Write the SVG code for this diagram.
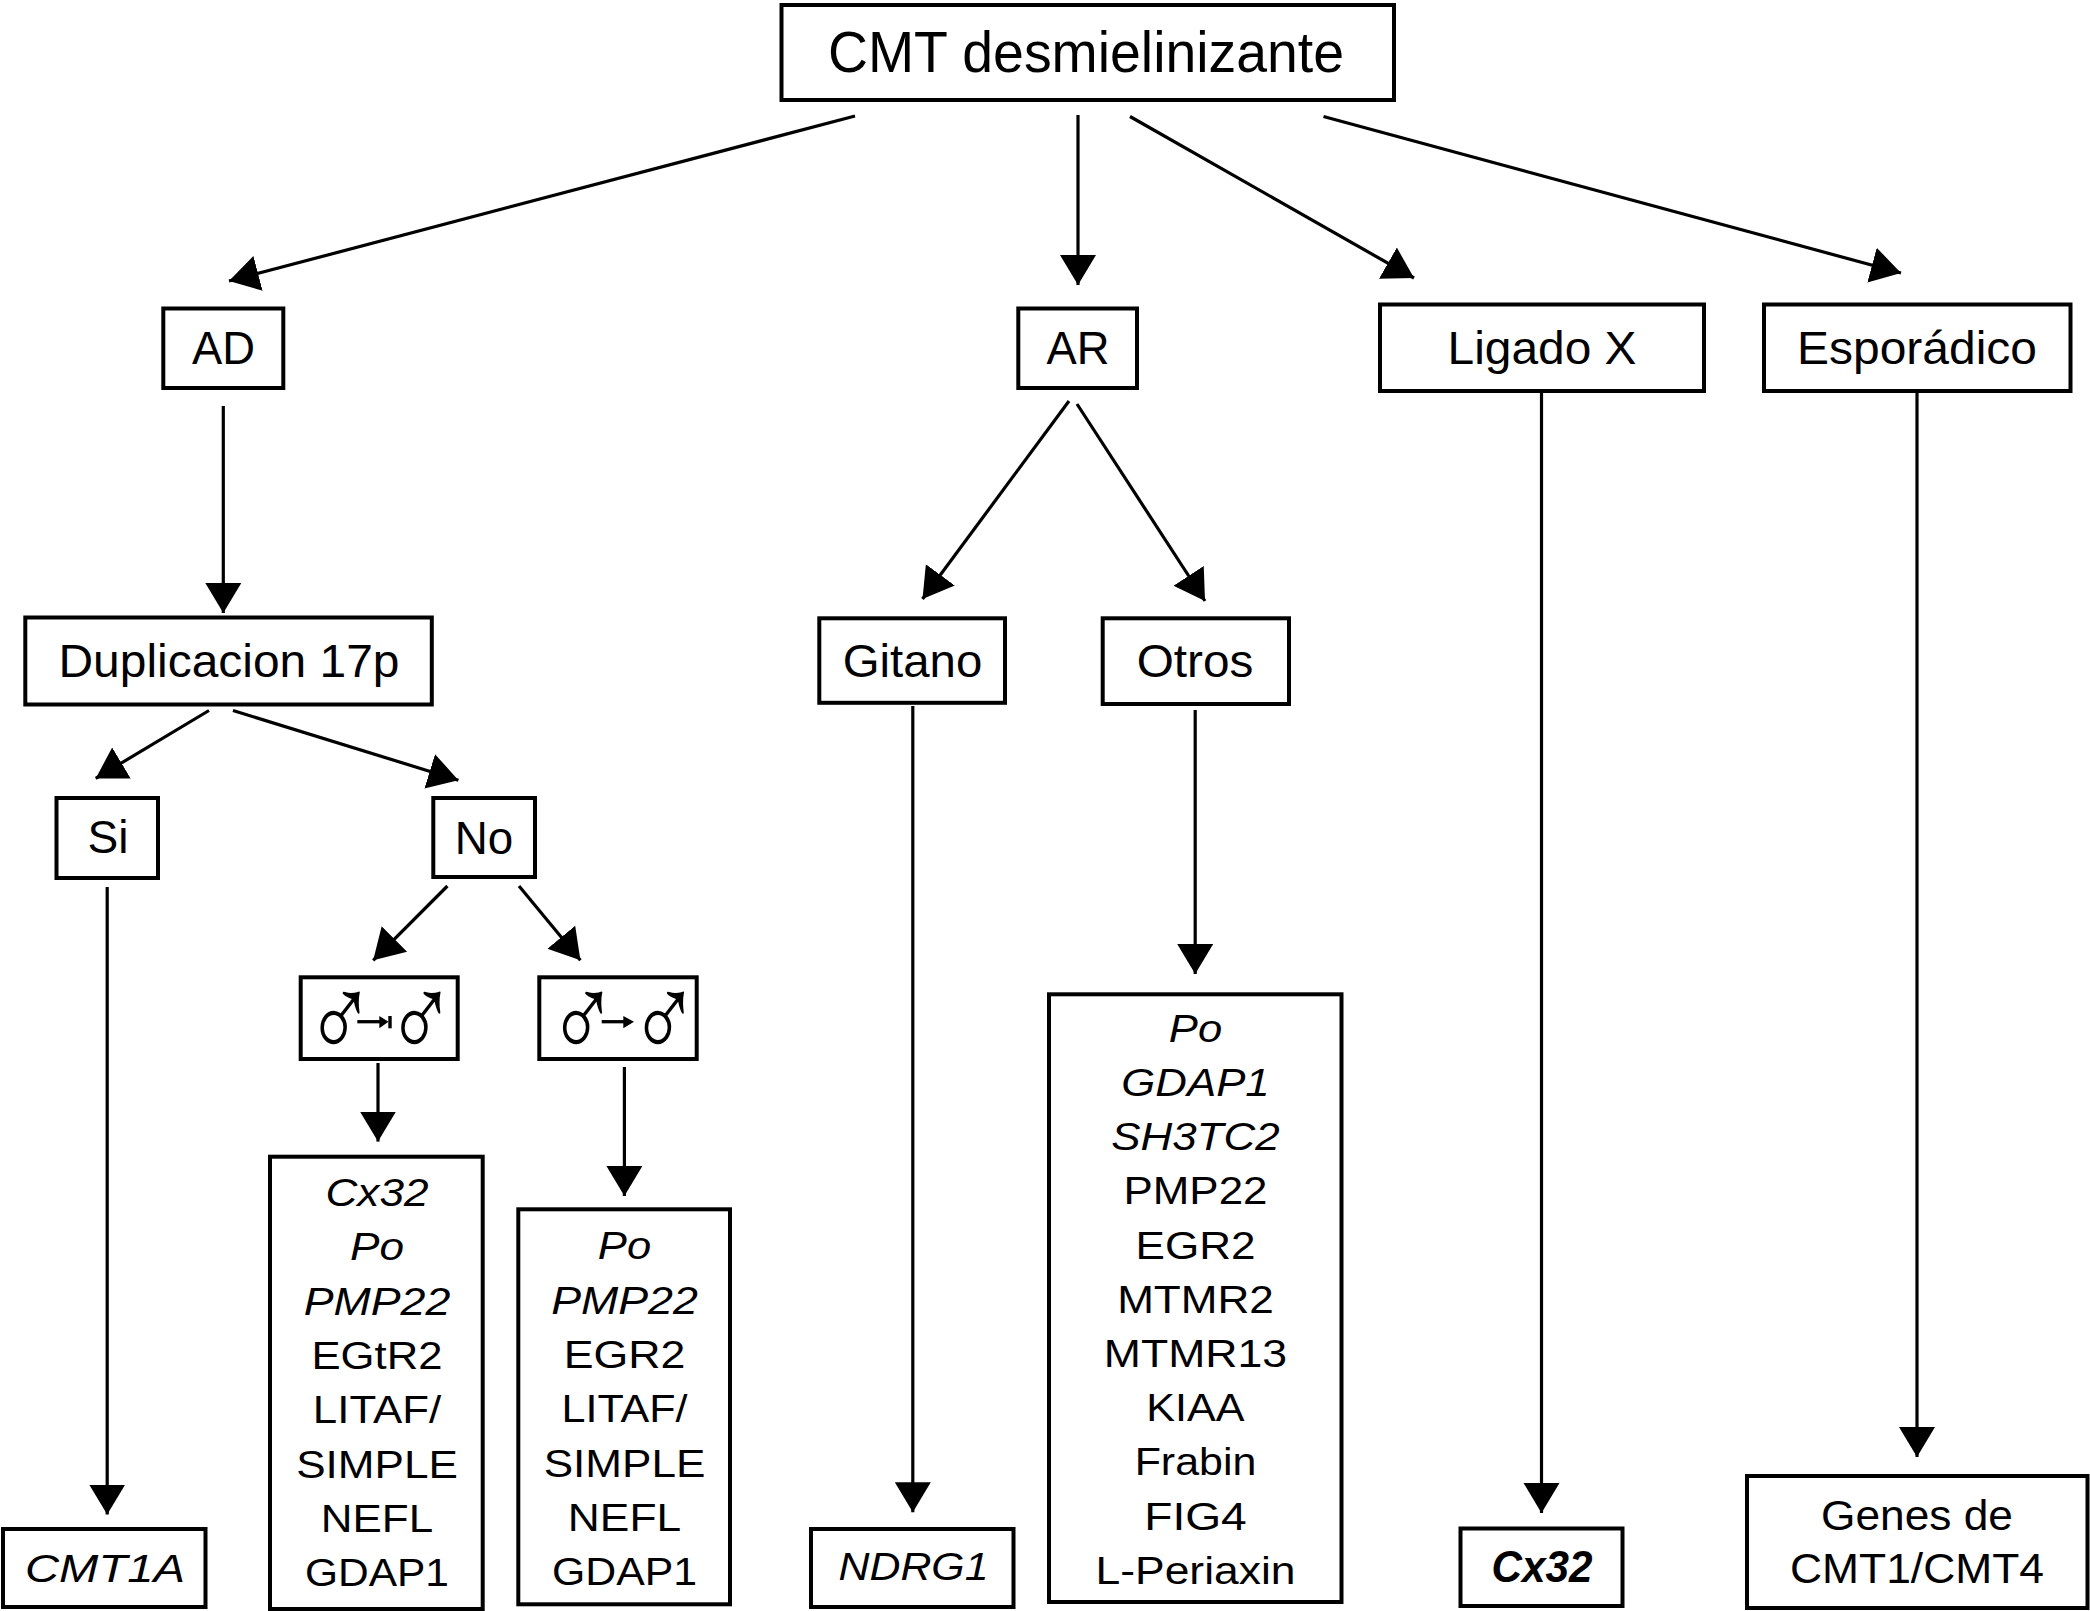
<svg xmlns="http://www.w3.org/2000/svg" width="2090" height="1611" viewBox="0 0 2090 1611">
<defs>
<marker id="ah" markerUnits="userSpaceOnUse" markerWidth="32" markerHeight="38" viewBox="0 -19 32 38" refX="30" refY="0" orient="auto">
<path d="M0,-18 L30,0 L0,18 Z" fill="#000"/>
</marker>
<style>
rect.b{fill:#fff;stroke:#000;stroke-width:4}
.c line{stroke:#000;stroke-width:3.2;marker-end:url(#ah)}
text{font-family:"Liberation Sans",Arial,sans-serif;fill:#000;text-anchor:middle}
.h{font-size:47px}
.l{font-size:38px}
.i{font-style:italic}
.m{font-size:120px}
</style>
</defs>
<rect width="2090" height="1611" fill="#fff"/>

<g id="connectors" class="c">
<line x1="855" y1="116" x2="229" y2="281"/>
<line x1="1078" y1="115" x2="1078" y2="285"/>
<line x1="1130" y1="116.5" x2="1414" y2="278"/>
<line x1="1323.5" y1="116.5" x2="1901" y2="273"/>
<line x1="223.3" y1="406" x2="223.3" y2="613"/>
<line x1="1069" y1="401" x2="922.5" y2="599"/>
<line x1="1077" y1="404" x2="1205" y2="601"/>
<line x1="1541.5" y1="391" x2="1541.5" y2="1513"/>
<line x1="1917" y1="391" x2="1917" y2="1457"/>
<line x1="209" y1="710.5" x2="95.7" y2="778.4"/>
<line x1="233" y1="710.5" x2="458.4" y2="780.2"/>
<line x1="107.2" y1="887" x2="107.2" y2="1514.6"/>
<line x1="447.4" y1="886" x2="373.2" y2="960.3"/>
<line x1="519" y1="886" x2="580.4" y2="960.3"/>
<line x1="378" y1="1063" x2="378" y2="1141.6"/>
<line x1="624.4" y1="1067" x2="624.4" y2="1196"/>
<line x1="912.8" y1="706" x2="912.8" y2="1512.3"/>
<line x1="1195.2" y1="710" x2="1195.2" y2="974"/>
</g>

<g id="n-title"><rect class="b" x="781.5" y="5" width="612.5" height="95"/><text x="1086" y="72" font-size="58" textLength="516" lengthAdjust="spacingAndGlyphs">CMT desmielinizante</text></g>
<g id="n-ad"><rect class="b" x="163.3" y="308.5" width="120" height="79.5"/><text class="h" x="223.5" y="364" textLength="63" lengthAdjust="spacingAndGlyphs">AD</text></g>
<g id="n-ar"><rect class="b" x="1018.3" y="308.5" width="118.7" height="79.5"/><text class="h" x="1078" y="364" textLength="63" lengthAdjust="spacingAndGlyphs">AR</text></g>
<g id="n-ligado"><rect class="b" x="1380" y="304.5" width="324" height="86.5"/><text class="h" x="1542" y="364" textLength="189" lengthAdjust="spacingAndGlyphs">Ligado X</text></g>
<g id="n-esporadico"><rect class="b" x="1764" y="304.5" width="306.5" height="86.5"/><text class="h" x="1917" y="364" textLength="240" lengthAdjust="spacingAndGlyphs">Esporádico</text></g>
<g id="n-dup"><rect class="b" x="25.3" y="617.5" width="406.5" height="87"/><text class="h" x="229" y="677" textLength="341" lengthAdjust="spacingAndGlyphs">Duplicacion 17p</text></g>
<g id="n-gitano"><rect class="b" x="819.3" y="618.3" width="185.7" height="84.5"/><text class="h" x="912.5" y="677" textLength="139.5" lengthAdjust="spacingAndGlyphs">Gitano</text></g>
<g id="n-otros"><rect class="b" x="1102.7" y="618.3" width="186.3" height="85.7"/><text class="h" x="1195" y="677" textLength="116.7" lengthAdjust="spacingAndGlyphs">Otros</text></g>
<g id="n-si"><rect class="b" x="56.5" y="798" width="101.5" height="80"/><text class="h" x="108" y="853" textLength="41" lengthAdjust="spacingAndGlyphs">Si</text></g>
<g id="n-no"><rect class="b" x="433.3" y="798" width="101.7" height="79"/><text class="h" x="484" y="854" textLength="58.5" lengthAdjust="spacingAndGlyphs">No</text></g>

<g id="n-male-blocked"><rect class="b" x="300.7" y="977.3" width="157" height="81.7"/>
<text class="m" transform="translate(340,1059) scale(0.78,1)"><tspan x="0">♂</tspan><tspan x="103.8">♂</tspan></text>
<line x1="357.3" y1="1021.7" x2="381" y2="1021.7" stroke="#000" stroke-width="3.3"/>
<polygon points="379.3,1016 388.5,1021.7 379.3,1028.3" fill="#000"/>
<rect x="388.3" y="1016" width="3.4" height="12.3" fill="#000"/></g>
<g id="n-male-pass"><rect class="b" x="539.3" y="977.3" width="157.4" height="81.7"/>
<text class="m" transform="translate(582.5,1059) scale(0.78,1)"><tspan x="0">♂</tspan><tspan x="105.1">♂</tspan></text>
<line x1="601.7" y1="1021.7" x2="625" y2="1021.7" stroke="#000" stroke-width="3.3"/>
<polygon points="623.3,1016 634,1021.7 623.3,1028.3" fill="#000"/></g>

<g id="n-list-left"><rect class="b" x="270" y="1156.7" width="212.7" height="452.3"/>
<text class="l i" x="377" y="1206" textLength="103" lengthAdjust="spacingAndGlyphs">Cx32</text>
<text class="l i" x="377" y="1260.3" textLength="54" lengthAdjust="spacingAndGlyphs">Po</text>
<text class="l i" x="377" y="1314.6" textLength="146.7" lengthAdjust="spacingAndGlyphs">PMP22</text>
<text class="l" x="377" y="1368.9" textLength="131" lengthAdjust="spacingAndGlyphs">EGtR2</text>
<text class="l" x="377" y="1423.2" textLength="128.3" lengthAdjust="spacingAndGlyphs">LITAF/</text>
<text class="l" x="377" y="1477.5" textLength="161.7" lengthAdjust="spacingAndGlyphs">SIMPLE</text>
<text class="l" x="377" y="1531.8" textLength="112.3" lengthAdjust="spacingAndGlyphs">NEFL</text>
<text class="l" x="377" y="1586.1" textLength="144" lengthAdjust="spacingAndGlyphs">GDAP1</text></g>

<g id="n-list-right"><rect class="b" x="518.3" y="1209.3" width="211.7" height="395"/>
<text class="l i" x="624.5" y="1259.3" textLength="53.3" lengthAdjust="spacingAndGlyphs">Po</text>
<text class="l i" x="624.5" y="1313.6" textLength="146.7" lengthAdjust="spacingAndGlyphs">PMP22</text>
<text class="l" x="624.5" y="1367.9" textLength="121.7" lengthAdjust="spacingAndGlyphs">EGR2</text>
<text class="l" x="624.5" y="1422.2" textLength="126" lengthAdjust="spacingAndGlyphs">LITAF/</text>
<text class="l" x="624.5" y="1476.5" textLength="161.7" lengthAdjust="spacingAndGlyphs">SIMPLE</text>
<text class="l" x="624.5" y="1530.8" textLength="113.3" lengthAdjust="spacingAndGlyphs">NEFL</text>
<text class="l" x="624.5" y="1585.1" textLength="145" lengthAdjust="spacingAndGlyphs">GDAP1</text></g>

<g id="n-list-otros"><rect class="b" x="1049" y="994.3" width="292.5" height="607.7"/>
<text class="l i" x="1195.5" y="1041.7" textLength="53.3" lengthAdjust="spacingAndGlyphs">Po</text>
<text class="l i" x="1195.5" y="1095.9" textLength="148.3" lengthAdjust="spacingAndGlyphs">GDAP1</text>
<text class="l i" x="1195.5" y="1150.1" textLength="168.3" lengthAdjust="spacingAndGlyphs">SH3TC2</text>
<text class="l" x="1195.5" y="1204.3" textLength="144" lengthAdjust="spacingAndGlyphs">PMP22</text>
<text class="l" x="1195.5" y="1258.5" textLength="120" lengthAdjust="spacingAndGlyphs">EGR2</text>
<text class="l" x="1195.5" y="1312.7" textLength="156.7" lengthAdjust="spacingAndGlyphs">MTMR2</text>
<text class="l" x="1195.5" y="1366.9" textLength="183.3" lengthAdjust="spacingAndGlyphs">MTMR13</text>
<text class="l" x="1195.5" y="1421.1" textLength="98.3" lengthAdjust="spacingAndGlyphs">KIAA</text>
<text class="l" x="1195.5" y="1475.3" textLength="121.7" lengthAdjust="spacingAndGlyphs">Frabin</text>
<text class="l" x="1195.5" y="1529.5" textLength="102.6" lengthAdjust="spacingAndGlyphs">FIG4</text>
<text class="l" x="1195.5" y="1583.7" textLength="200" lengthAdjust="spacingAndGlyphs">L-Periaxin</text></g>

<g id="n-cmt1a"><rect class="b" x="3" y="1529" width="202.5" height="78"/><text class="l i" x="105" y="1582" textLength="160" lengthAdjust="spacingAndGlyphs">CMT1A</text></g>
<g id="n-ndrg1"><rect class="b" x="811" y="1529" width="202.5" height="78"/><text class="l i" x="913.5" y="1580" textLength="150" lengthAdjust="spacingAndGlyphs">NDRG1</text></g>
<g id="n-cx32"><rect class="b" x="1460.5" y="1528.5" width="162" height="77.5"/><text class="i" x="1542" y="1582" font-size="44" font-weight="bold" textLength="101" lengthAdjust="spacingAndGlyphs">Cx32</text></g>
<g id="n-genes"><rect class="b" x="1747" y="1476" width="340.5" height="132"/><text x="1917" y="1530" font-size="42" textLength="192" lengthAdjust="spacingAndGlyphs">Genes de</text><text x="1917" y="1583" font-size="42" textLength="254" lengthAdjust="spacingAndGlyphs">CMT1/CMT4</text></g>
</svg>
